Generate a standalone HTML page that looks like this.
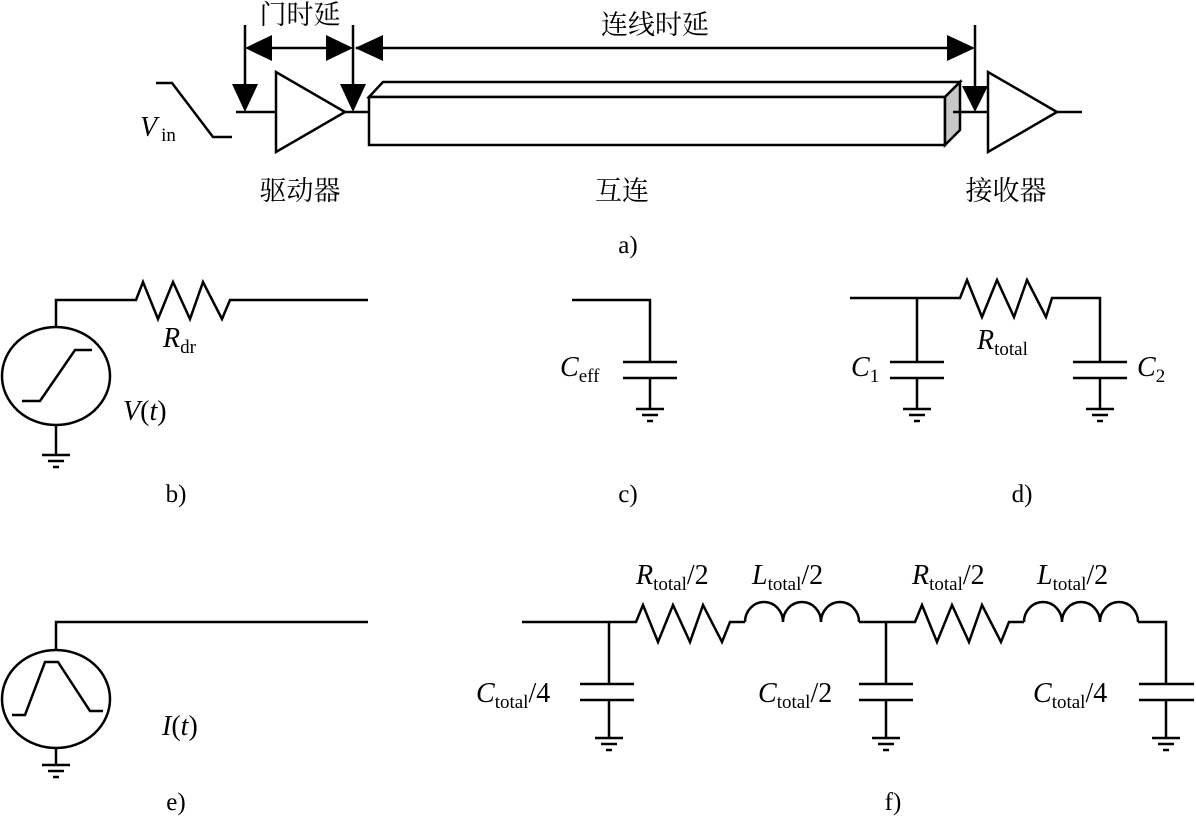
<!DOCTYPE html>
<html><head><meta charset="utf-8"><style>
html,body{margin:0;padding:0;background:#fff;}
svg{display:block;}
text{font-family:"Liberation Serif","Noto Serif CJK SC",serif;fill:#000;}
.cn{font-family:"Liberation Serif","Noto Serif CJK SC",serif;font-size:27px;}
.it{font-style:italic;font-size:28px;}
.sub{font-size:19px;font-style:normal;}
.lab{font-size:25px;}
</style></head><body>
<svg width="1196" height="818" viewBox="0 0 1196 818" xmlns="http://www.w3.org/2000/svg">
<g stroke="#000" stroke-width="2.5" fill="none">
<polyline points="156,83 172,83 213,137 232,137"/>
<line x1="236" y1="112" x2="276" y2="112"/>
<polygon points="276,72 276,152 345,112"/>
<line x1="345" y1="112" x2="369" y2="112"/>
<line x1="245" y1="25" x2="245" y2="100"/>
<line x1="353" y1="25" x2="353" y2="100"/>
<line x1="975" y1="25" x2="975" y2="100"/>
<line x1="250" y1="48" x2="350" y2="48"/>
<line x1="356" y1="48" x2="970" y2="48"/>
<polygon points="369,97 383,82 960,82 945,97" fill="#fff"/>
<rect x="369" y="97" width="576" height="48" fill="#fff"/>
<polygon points="945,97 960,82 960,130 945,145" fill="#c8c8c8"/>
<line x1="953" y1="112" x2="988" y2="112"/>
<polygon points="988,72 988,152 1057,112"/>
<line x1="1057" y1="112" x2="1082" y2="112"/>
</g>
<g fill="#000" stroke="none">
<polygon points="232,84 258,84 245,112"/>
<polygon points="340,84 366,84 353,112"/>
<polygon points="962,86 988,86 975,112"/>
<polygon points="245,48 272,35 272,61"/>
<polygon points="353,48 326,35 326,61"/>
<polygon points="355,48 383,35 383,61"/>
<polygon points="975,48 947,35 947,61"/>
</g>
<text class="cn" x="300" y="24" text-anchor="middle">门时延</text>
<text class="cn" x="655" y="34" text-anchor="middle">连线时延</text>
<text class="cn" x="300" y="200" text-anchor="middle">驱动器</text>
<text class="cn" x="622" y="200" text-anchor="middle">互连</text>
<text class="cn" x="1006" y="200" text-anchor="middle">接收器</text>
<text class="it" x="140" y="136">V<tspan class="sub" dx="4" dy="5">in</tspan></text>
<text class="lab" x="628" y="253" text-anchor="middle">a)</text>

<g stroke="#000" stroke-width="2.5" fill="none">
<ellipse cx="56" cy="376" rx="54" ry="49"/>
<polyline points="22,401 40,401 75,350 92,350"/>
<polyline points="56,327 56,300 136,300 143,282 158,319 173,282 190,319 203,282 222,319 230,300 368,300"/>
<line x1="56" y1="425" x2="56" y2="454"/>
<line x1="42" y1="455" x2="70" y2="455"/>
<line x1="48" y1="461" x2="64" y2="461"/>
<line x1="53" y1="467" x2="59" y2="467"/>
<polyline points="572,300 650,300 650,362"/>
<line x1="623" y1="362" x2="677" y2="362"/>
<line x1="623" y1="378" x2="677" y2="378"/>
<line x1="650" y1="378" x2="650" y2="408"/>
<line x1="636" y1="409" x2="664" y2="409"/><line x1="642" y1="415" x2="658" y2="415"/><line x1="647" y1="421" x2="653" y2="421"/>
<polyline points="850,298 960,298 967,280 982,317 997,280 1014,317 1027,280 1046,317 1052,298 1100,298 1100,362"/>
<line x1="917" y1="298" x2="917" y2="362"/>
<line x1="890" y1="362" x2="944" y2="362"/><line x1="890" y1="378" x2="944" y2="378"/>
<line x1="917" y1="378" x2="917" y2="408"/>
<line x1="903" y1="409" x2="931" y2="409"/><line x1="909" y1="415" x2="925" y2="415"/><line x1="914" y1="421" x2="920" y2="421"/>
<line x1="1073" y1="362" x2="1127" y2="362"/><line x1="1073" y1="378" x2="1127" y2="378"/>
<line x1="1100" y1="378" x2="1100" y2="408"/>
<line x1="1086" y1="409" x2="1114" y2="409"/><line x1="1092" y1="415" x2="1108" y2="415"/><line x1="1097" y1="421" x2="1103" y2="421"/>
<ellipse cx="56" cy="699" rx="54" ry="49"/>
<polyline points="12,715 25,715 45,662 58,662 90,711 103,711"/>
<polyline points="56,650 56,622 368,622"/>
<line x1="56" y1="748" x2="56" y2="764"/>
<line x1="42" y1="765" x2="70" y2="765"/><line x1="48" y1="771" x2="64" y2="771"/><line x1="53" y1="777" x2="59" y2="777"/>
<polyline points="522,622 636,622 643,605 658,642 673,605 690,642 703,605 722,642 730,622 745,622"/>
<path d="M745,622 a19,20 0 0 1 38,0 a19,20 0 0 1 38,0 a19,20 0 0 1 38,0"/>
<polyline points="859,622 915,622 922,605 937,642 952,605 969,642 982,605 1001,642 1009,622 1024,622"/>
<path d="M1024,622 a19,20 0 0 1 38,0 a19,20 0 0 1 38,0 a19,20 0 0 1 38,0"/>
<polyline points="1138,622 1166,622 1166,684"/>
<line x1="609" y1="622" x2="609" y2="684"/>
<line x1="580" y1="684" x2="634" y2="684"/><line x1="580" y1="700" x2="634" y2="700"/>
<line x1="609" y1="700" x2="609" y2="737"/>
<line x1="595" y1="738" x2="623" y2="738"/><line x1="601" y1="744" x2="617" y2="744"/><line x1="606" y1="750" x2="612" y2="750"/>
<line x1="886" y1="622" x2="886" y2="684"/>
<line x1="859" y1="684" x2="913" y2="684"/><line x1="859" y1="700" x2="913" y2="700"/>
<line x1="886" y1="700" x2="886" y2="737"/>
<line x1="872" y1="738" x2="900" y2="738"/><line x1="878" y1="744" x2="894" y2="744"/><line x1="883" y1="750" x2="889" y2="750"/>
<line x1="1139" y1="684" x2="1194" y2="684"/><line x1="1139" y1="700" x2="1194" y2="700"/>
<line x1="1166" y1="700" x2="1166" y2="737"/>
<line x1="1152" y1="738" x2="1180" y2="738"/><line x1="1158" y1="744" x2="1174" y2="744"/><line x1="1163" y1="750" x2="1169" y2="750"/>
</g>
<text class="it" x="163" y="347">R<tspan class="sub" dy="6">dr</tspan></text>
<text class="it" x="123" y="420">V<tspan font-style="normal">(</tspan>t<tspan font-style="normal">)</tspan></text>
<text class="lab" x="176" y="502" text-anchor="middle">b)</text>
<text class="it" x="560" y="376">C<tspan class="sub" dy="6">eff</tspan></text>
<text class="lab" x="628" y="502" text-anchor="middle">c)</text>
<text class="it" x="851" y="376">C<tspan class="sub" dy="6" font-size="22">1</tspan></text>
<text class="it" x="977" y="349">R<tspan class="sub" dy="6">total</tspan></text>
<text class="it" x="1137" y="376">C<tspan class="sub" dy="6" font-size="22">2</tspan></text>
<text class="lab" x="1022" y="502" text-anchor="middle">d)</text>
<text class="it" x="162" y="735">I<tspan font-style="normal">(</tspan>t<tspan font-style="normal">)</tspan></text>
<text class="lab" x="176" y="810" text-anchor="middle">e)</text>
<text class="it" x="636" y="584">R<tspan class="sub" dy="6">total</tspan><tspan font-style="normal" dy="-6">/2</tspan></text>
<text class="it" x="752" y="584">L<tspan class="sub" dy="6">total</tspan><tspan font-style="normal" dy="-6">/2</tspan></text>
<text class="it" x="912" y="584">R<tspan class="sub" dy="6">total</tspan><tspan font-style="normal" dy="-6">/2</tspan></text>
<text class="it" x="1037" y="584">L<tspan class="sub" dy="6">total</tspan><tspan font-style="normal" dy="-6">/2</tspan></text>
<text class="it" x="476" y="702">C<tspan class="sub" dy="6">total</tspan><tspan font-style="normal" dy="-6">/4</tspan></text>
<text class="it" x="758" y="702">C<tspan class="sub" dy="6">total</tspan><tspan font-style="normal" dy="-6">/2</tspan></text>
<text class="it" x="1033" y="702">C<tspan class="sub" dy="6">total</tspan><tspan font-style="normal" dy="-6">/4</tspan></text>
<text class="lab" x="893" y="810" text-anchor="middle">f)</text>
</svg>
</body></html>
